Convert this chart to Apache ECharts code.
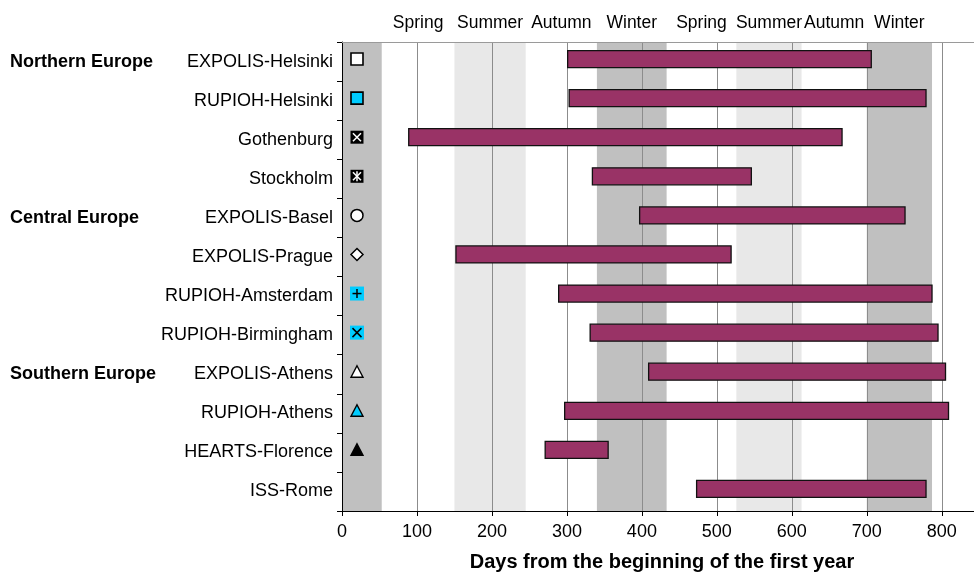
<!DOCTYPE html>
<html>
<head>
<meta charset="utf-8">
<script src="https://cdn.jsdelivr.net/npm/echarts@6/dist/echarts.min.js"></script>
<style>
html,body{margin:0;padding:0;background:#fff;}
#chart{width:974px;height:577px;}
</style>
</head>
<body>
<div id="chart"></div>
<script>
// ---- data ----
const sites = ['EXPOLIS-Helsinki','RUPIOH-Helsinki','Gothenburg','Stockholm','EXPOLIS-Basel','EXPOLIS-Prague','RUPIOH-Amsterdam','RUPIOH-Birmingham','EXPOLIS-Athens','RUPIOH-Athens','HEARTS-Florence','ISS-Rome'];
const regions = ['Northern Europe','','','','Central Europe','','','','Southern Europe','','',''];
const startDay = [301, 303, 89, 334, 397, 152, 289, 331, 409, 297, 271, 473];
const endDay   = [706, 779, 667, 546, 751, 519, 787, 795, 805, 809, 355, 779];
const markerKind = ['squareWhite','squareCyan','squareBlackX','squareBlackStar','circleWhite','diamondWhite','cyanPlus','cyanX','triangleWhite','triangleCyan','triangleBlack','none'];
const seasonNames = ['Winter','Spring','Summer','Autumn','Winter','Spring','Summer','Autumn','Winter'];
const seasonStart = [0, 53, 150, 245, 340, 433, 526, 613, 700];
const seasonEnd   = [53, 150, 245, 340, 433, 526, 613, 700, 787];
const seasonLabelShown = [false, true, true, true, true, true, true, true, true];
const xTicks = [0, 100, 200, 300, 400, 500, 600, 700, 800];

// ---- styles ----
const FONT = '"Liberation Sans", Arial, Helvetica, sans-serif';
const CYAN = '#00ccff';
const BAR = '#993366';
const rowShift = 2.5;
const markerDay = 20;
const seasonFill = {Winter:'#c0c0c0', Summer:'#e8e8e8', Spring:'rgba(0,0,0,0)', Autumn:'rgba(0,0,0,0)'};

const chart = echarts.init(document.getElementById('chart'), null, {renderer:'canvas'});

function bandItem(params, api){
  const i = api.value(2);
  const x0 = api.coord([api.value(0), 0])[0];
  const x1 = api.coord([api.value(1), 0])[0];
  const cs = params.coordSys;
  const children = [{
    type:'rect', shape:{x:x0, y:cs.y, width:x1-x0, height:cs.height},
    style:{fill: seasonFill[seasonNames[i]]}, silent:true
  }];
  if (seasonLabelShown[i]) {
    children.push({
      type:'text', x:(x0+x1)/2, y:cs.y-19,
      style:{text:seasonNames[i], textAlign:'center', textVerticalAlign:'middle', fill:'#000', font:'17.5px ' + FONT}
    });
  }
  return {type:'group', children};
}

function barItem(params, api){
  const row = api.value(2);
  const p0 = api.coord([api.value(0), row]);
  const p1 = api.coord([api.value(1), row]);
  const h = 17;
  return {type:'rect', shape:{x:p0[0], y:p0[1]-h/2-rowShift, width:p1[0]-p0[0], height:h},
          style:{fill:BAR, stroke:'#111', lineWidth:1.3}};
}

function markerItem(params, api){
  const row = api.value(1);
  const kind = markerKind[row];
  const c = api.coord([api.value(0), row]);
  const cx = c[0], cy = c[1]-rowShift;
  const ch = [];
  const line = (x1,y1,x2,y2,color,w) => ({type:'line', shape:{x1,y1,x2,y2}, style:{stroke:color, lineWidth:w||1.6}});
  if (kind === 'squareWhite' || kind === 'squareCyan') {
    ch.push({type:'rect', shape:{x:cx-6, y:cy-6, width:12, height:12}, style:{fill: kind==='squareWhite'?'#fff':CYAN, stroke:'#000', lineWidth:1.6}});
  } else if (kind === 'squareBlackX' || kind === 'squareBlackStar') {
    ch.push({type:'rect', shape:{x:cx-6.5, y:cy-6.5, width:13, height:13}, style:{fill:'#000'}});
    ch.push(line(cx-4, cy-4, cx+4, cy+4, '#fff', 1.5));
    ch.push(line(cx-4, cy+4, cx+4, cy-4, '#fff', 1.5));
    if (kind === 'squareBlackStar') ch.push(line(cx, cy-5, cx, cy+5, '#fff', 1.5));
  } else if (kind === 'circleWhite') {
    ch.push({type:'circle', shape:{cx, cy, r:6}, style:{fill:'#fff', stroke:'#000', lineWidth:1.5}});
  } else if (kind === 'diamondWhite') {
    ch.push({type:'polygon', shape:{points:[[cx,cy-6],[cx+6,cy],[cx,cy+6],[cx-6,cy]]}, style:{fill:'#fff', stroke:'#000', lineWidth:1.5}});
  } else if (kind === 'cyanPlus' || kind === 'cyanX') {
    ch.push({type:'rect', shape:{x:cx-7, y:cy-7, width:14, height:14}, style:{fill:CYAN}});
    if (kind === 'cyanPlus') {
      ch.push(line(cx-4.5, cy, cx+4.5, cy, '#000', 1.5));
      ch.push(line(cx, cy-4.5, cx, cy+4.5, '#000', 1.5));
    } else {
      ch.push(line(cx-4.5, cy-4.5, cx+4.5, cy+4.5, '#000', 1.5));
      ch.push(line(cx-4.5, cy+4.5, cx+4.5, cy-4.5, '#000', 1.5));
    }
  } else if (kind.indexOf('triangle') === 0) {
    const fill = kind==='triangleWhite' ? '#fff' : (kind==='triangleCyan' ? CYAN : '#000');
    ch.push({type:'polygon', shape:{points:[[cx,cy-6],[cx+6,cy+5.5],[cx-6,cy+5.5]]}, style:{fill, stroke:'#000', lineWidth:1.4}});
  }
  return {type:'group', children:ch};
}

const option = {
  animation:false,
  textStyle:{fontFamily:FONT},
  grid:{left:342, right:0, top:42, bottom:62, containLabel:false},
  xAxis:[{
    type:'value', min:xTicks[0], max:843, interval:xTicks[1]-xTicks[0],
    axisLine:{show:true, lineStyle:{color:'#000', width:1}},
    axisTick:{show:true, length:5, lineStyle:{color:'#000'}},
    axisLabel:{fontSize:18, color:'#000', margin:12, fontFamily:FONT, showMaxLabel:false},
    splitLine:{show:true, lineStyle:{color:'#8c8c8c', width:1}},
    name:'Days from the beginning of the first year', nameLocation:'middle', nameGap:41,
    nameTextStyle:{fontWeight:'bold', fontSize:20, color:'#000', fontFamily:FONT, padding:[0,0,0,8]}
  },{
    type:'value', position:'top', min:xTicks[0], max:843,
    axisLine:{show:true, lineStyle:{color:'#9a9a9a', width:1}},
    axisTick:{show:false}, axisLabel:{show:false}, splitLine:{show:false}
  }],
  yAxis:[{
    type:'category', data:sites, inverse:true,
    axisLine:{show:true, lineStyle:{color:'#000', width:1}},
    axisTick:{show:true, length:5, lineStyle:{color:'#000'}},
    axisLabel:{fontSize:18, color:'#000', margin:9, fontFamily:FONT, padding:[0,0,5,0]},
    splitLine:{show:false}
  },{
    type:'category', data:regions, inverse:true, position:'left',
    axisLine:{show:false}, axisTick:{show:false}, splitLine:{show:false},
    axisLabel:{fontSize:18, fontWeight:'bold', color:'#000', align:'left', margin:332, fontFamily:FONT, padding:[0,0,3,0]}
  }],
  series:[{
    type:'custom', name:'seasons', z:-1, xAxisIndex:0, yAxisIndex:0,
    renderItem:bandItem, silent:true,
    data: seasonStart.map((s,i)=>[s, seasonEnd[i], i]),
    encode:{x:[0,1]}
  },{
    type:'custom', name:'periods', z:5, xAxisIndex:0, yAxisIndex:0,
    renderItem:barItem,
    data: sites.map((s,i)=>[startDay[i], endDay[i], i]),
    encode:{x:[0,1], y:2}
  },{
    type:'custom', name:'markers', z:6, xAxisIndex:0, yAxisIndex:0,
    renderItem:markerItem,
    data: sites.map((s,i)=>[markerDay, i]),
    encode:{x:0, y:1}
  }]
};
chart.setOption(option);
</script>
</body>
</html>
